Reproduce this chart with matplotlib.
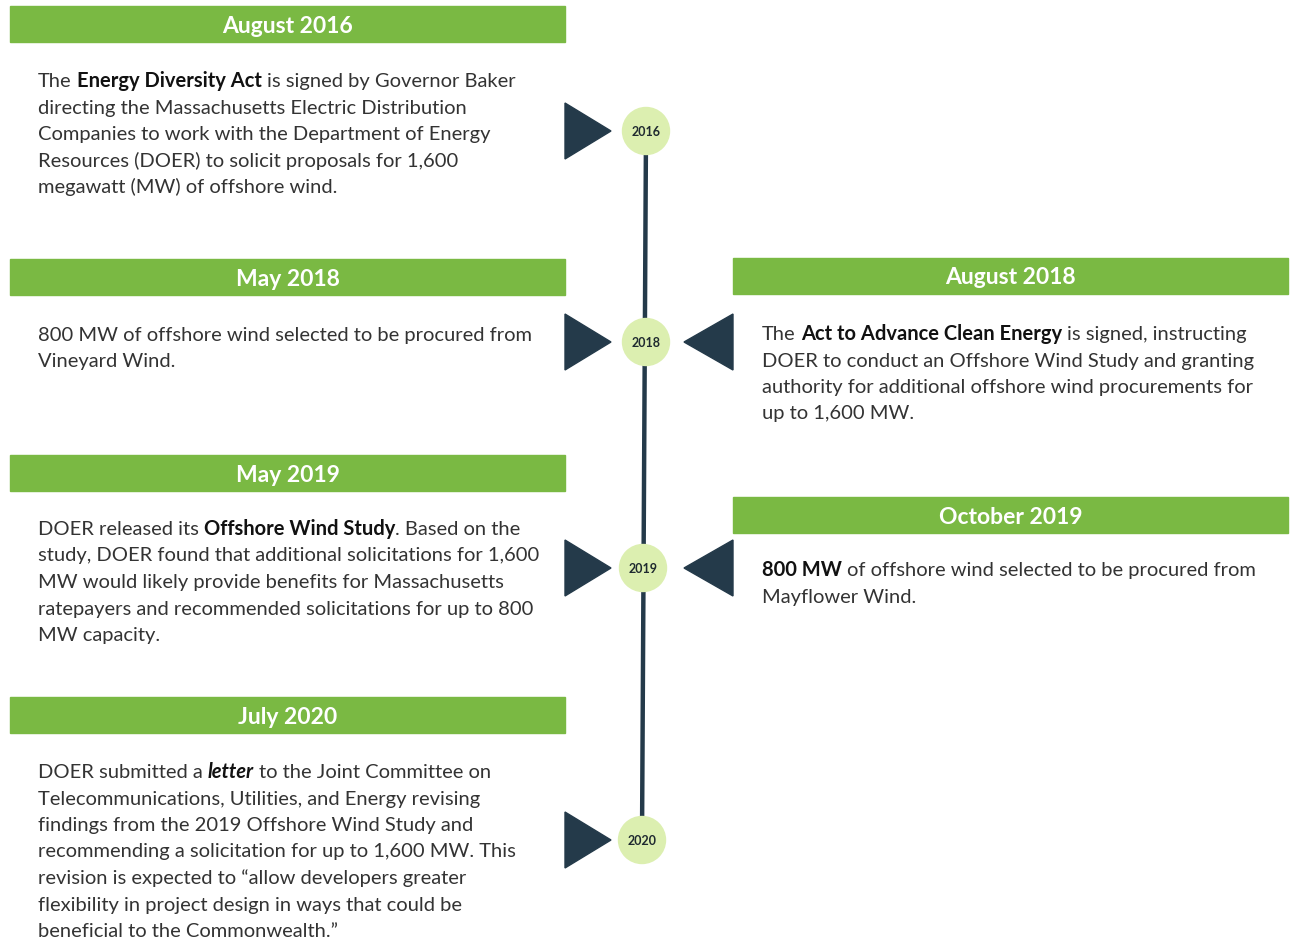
''' Offshore wind timeline (Massachusetts), redrawn with matplotlib.
'''
import re

import matplotlib
matplotlib.use('Agg')
import matplotlib.pyplot as plt
from matplotlib.patches import Rectangle, Circle, Polygon

plt.rcParams['font.family'] = ['Lato', 'DejaVu Sans']

GREEN = '#7ab943'
NAVY = '#243a4a'
PALE = '#dcefb0'
BODY = '#333333'
DARK = '#111111'

# timeline nodes
years = ['2016', '2018', '2019', '2020']
arrow_left = [True, True, True, True]
arrow_right = [False, True, True, False]

# events: date, side, body (** bold **, __ bold italic __)
dates = ['August 2016', 'May 2018', 'May 2019', 'July 2020', 'August 2018', 'October 2019']
sides = ['left', 'left', 'left', 'left', 'right', 'right']
bodies = [
    ['The **Energy Diversity Act** is signed by Governor Baker',
     'directing the Massachusetts Electric Distribution',
     'Companies to work with the Department of Energy',
     'Resources (DOER) to solicit proposals for 1,600',
     'megawatt (MW) of offshore wind.'],
    ['800 MW of offshore wind selected to be procured from',
     'Vineyard Wind.'],
    ['DOER released its **Offshore Wind Study**. Based on the',
     'study, DOER found that additional solicitations for 1,600',
     'MW would likely provide benefits for Massachusetts',
     'ratepayers and recommended solicitations for up to 800',
     'MW capacity.'],
    ['DOER submitted a __letter__ to the Joint Committee on',
     'Telecommunications, Utilities, and Energy revising',
     'findings from the 2019 Offshore Wind Study and',
     'recommending a solicitation for up to 1,600 MW. This',
     'revision is expected to \u201callow developers greater',
     'flexibility in project design in ways that could be',
     'beneficial to the Commonwealth.\u201d'],
    ['The **Act to Advance Clean Energy** is signed, instructing',
     'DOER to conduct an Offshore Wind Study and granting',
     'authority for additional offshore wind procurements for',
     'up to 1,600 MW.'],
    ['**800 MW** of offshore wind selected to be procured from',
     'Mayflower Wind.'],
]

# layout (pixels, y down)
W, H = 1292, 941
node_x = [646, 646, 643, 642]
node_y = [131, 342, 568, 840]
header_top = [6, 259, 455, 697, 258, 497]
body_top = [80, 334, 528, 771, 333, 569]
col_x = {'left': (10, 565), 'right': (733, 1288)}
text_x = {'left': 38, 'right': 762}
LINE = 26.5
BODY_SIZE = 14.5


def text_width(ax, renderer, s, **kw):
    t = ax.text(0, 0, s, **kw)
    w = t.get_window_extent(renderer).width
    t.remove()
    return w


def advance(ax, renderer, s, **kw):
    ''' Pen advance of s, spaces included, without the bbox padding. '''
    return (text_width(ax, renderer, 'n' + s + 'n', **kw)
            - text_width(ax, renderer, 'nn', **kw))


def draw_line(ax, renderer, x, y, line):
    ''' Draw one line made of plain, bold and bold-italic runs. '''
    for piece in re.split(r'(\*\*.*?\*\*|__.*?__)', line):
        if not piece:
            continue
        kw = dict(fontsize=BODY_SIZE, va='baseline', ha='left')
        if piece.startswith('**'):
            piece = piece[2:-2]
            kw.update(color=DARK, fontweight='bold')
        elif piece.startswith('__'):
            piece = piece[2:-2]
            kw.update(color=DARK, fontweight='bold', fontstyle='italic')
        else:
            kw.update(color=BODY)
        lead = piece[:len(piece) - len(piece.lstrip())]
        x0 = x + (advance(ax, renderer, lead, **kw) if lead else 0)
        if piece.strip():
            ax.text(x0, y, piece.strip(), **kw)
        x += advance(ax, renderer, piece, **kw)
    return x


def main():
    fig = plt.figure(figsize=(W / 100, H / 100), dpi=100)
    ax = fig.add_axes([0, 0, 1, 1])
    ax.set_xlim(0, W)
    ax.set_ylim(H, 0)
    ax.axis('off')
    renderer = fig.canvas.get_renderer()

    # spine of the timeline
    ax.plot([node_x[0], node_x[-1]], [node_y[0], node_y[-1]], color=NAVY, lw=3.2,
            solid_capstyle='butt', zorder=1)

    for i, year in enumerate(years):
        cx, cy = node_x[i], node_y[i]
        ax.add_patch(Circle((cx, cy), 23.5, color=PALE, zorder=2))
        ax.text(cx, cy + 1, year, ha='center', va='center', fontsize=9,
                fontweight='bold', color='#1f2a30', zorder=3)
        if arrow_left[i]:
            ax.add_patch(Polygon([(565, cy - 28), (565, cy + 28), (611, cy)],
                                 color=NAVY, zorder=2))
        if arrow_right[i]:
            ax.add_patch(Polygon([(733, cy - 28), (733, cy + 28), (684, cy)],
                                 color=NAVY, zorder=2))

    for i, date in enumerate(dates):
        x0, x1 = col_x[sides[i]]
        top = header_top[i]
        ax.add_patch(Rectangle((x0, top), x1 - x0, 36, color=GREEN, zorder=1))
        ax.text((x0 + x1) / 2, top + 20, date, ha='center', va='center',
                fontsize=16.5, fontweight='bold', color='white')
        for j, line in enumerate(bodies[i]):
            draw_line(ax, renderer, text_x[sides[i]], body_top[i] + 7 + j * LINE, line)

    fig.savefig('out.png', dpi=100, facecolor='white')


if __name__ == '__main__':
    main()
